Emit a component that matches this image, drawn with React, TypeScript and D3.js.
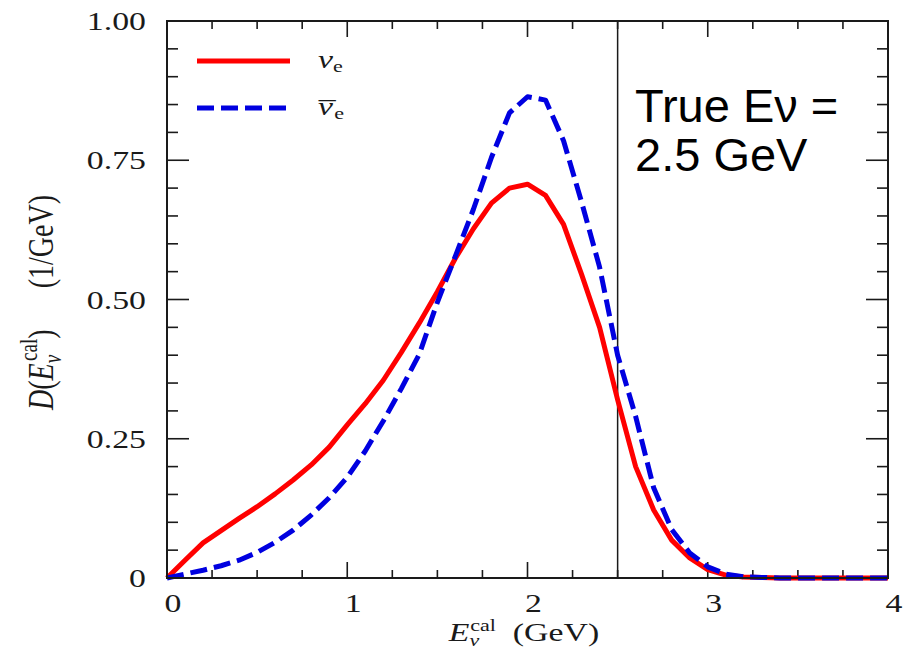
import React from "react";
import * as d3 from "d3";

const energies = [0, 0.1, 0.2, 0.3, 0.4, 0.5, 0.6, 0.7, 0.8, 0.9, 1.0, 1.1, 1.2, 1.3, 1.4, 1.5, 1.6, 1.7, 1.8, 1.9, 2.0, 2.1, 2.2, 2.3, 2.4, 2.5, 2.6, 2.7, 2.8, 2.9, 3.0, 3.1, 3.2, 3.3, 3.4, 3.5, 3.6, 3.7, 3.8, 3.9, 4.0];
const nuE = [0, 0.032, 0.063, 0.085, 0.107, 0.128, 0.151, 0.176, 0.203, 0.235, 0.275, 0.313, 0.355, 0.405, 0.458, 0.514, 0.574, 0.627, 0.673, 0.700, 0.707, 0.687, 0.635, 0.545, 0.450, 0.320, 0.200, 0.122, 0.068, 0.036, 0.015, 0.005, 0.002, 0.001, 0, 0, 0, 0, 0, 0, 0];
const nuEBar = [0, 0.007, 0.014, 0.022, 0.032, 0.046, 0.064, 0.086, 0.113, 0.144, 0.181, 0.228, 0.282, 0.340, 0.402, 0.495, 0.578, 0.662, 0.755, 0.835, 0.864, 0.858, 0.785, 0.675, 0.558, 0.400, 0.290, 0.162, 0.087, 0.045, 0.020, 0.007, 0.002, 0.001, 0, 0, 0, 0, 0, 0, 0];
const xTickLabels = ["0", "1", "2", "3", "4"];
const yTickLabels = ["0", "0.25", "0.50", "0.75", "1.00"];
const trueEnergy = 2.5;

const W = 909, H = 660;
const M = { left: 167, right: 888, top: 21, bottom: 578 };
const SX = 1.3;
const serif = "'Liberation Serif', 'Times New Roman', serif";
const sans = "'Liberation Sans', Arial, sans-serif";
const ink = "#1a1a1a";

export default function App() {
  const x = d3.scaleLinear().domain([0, 4]).range([M.left, M.right]);
  const y = d3.scaleLinear().domain([0, 1]).range([M.bottom, M.top]);
  const line = d3.line<number>().x((_, i) => x(energies[i])).y((d) => y(d));

  const xMinor = d3.range(0, 4.0001, 0.25);
  const yMinor = d3.range(0, 1.0001, 0.05);
  const isMajorX = (v: number) => Math.abs(v - Math.round(v)) < 1e-6;
  const isMajorY = (v: number) => Math.abs(v * 4 - Math.round(v * 4)) < 1e-6;

  const T = (props: { x: number; y: number; anchor?: string; size?: number; children: React.ReactNode }) => (
    <text
      transform={`translate(${props.x},${props.y}) scale(${SX},1)`}
      textAnchor={props.anchor || "middle"}
      fontFamily={serif}
      fontSize={props.size || 26}
      fill={ink}
    >
      {props.children}
    </text>
  );

  return (
    <svg width={W} height={H} style={{ position: "absolute", left: 0, top: 0, background: "#fff" }}>
      <rect x={0} y={0} width={W} height={H} fill="#fff" />
      {/* ticks */}
      {xMinor.map((v, i) => {
        const len = isMajorX(v) ? 16 : 8;
        return (
          <g key={"xt" + i} stroke={ink} strokeWidth={1.6}>
            <line x1={x(v)} x2={x(v)} y1={M.bottom} y2={M.bottom - len} />
            <line x1={x(v)} x2={x(v)} y1={M.top} y2={M.top + len} />
          </g>
        );
      })}
      {yMinor.map((v, i) => {
        const len = isMajorY(v) ? 22 : 11;
        return (
          <g key={"yt" + i} stroke={ink} strokeWidth={1.6}>
            <line x1={M.left} x2={M.left + len} y1={y(v)} y2={y(v)} />
            <line x1={M.right} x2={M.right - len} y1={y(v)} y2={y(v)} />
          </g>
        );
      })}
      {/* true energy line */}
      <line x1={x(trueEnergy)} x2={x(trueEnergy)} y1={M.top} y2={M.bottom} stroke={ink} strokeWidth={1.5} />
      {/* curves */}
      <path d={line(nuE) || ""} fill="none" stroke="#ff0000" strokeWidth={5} strokeLinejoin="round" />
      <path d={line(nuEBar) || ""} fill="none" stroke="#0000e0" strokeWidth={5} strokeDasharray="17,7" strokeLinejoin="round" />
      {/* frame */}
      <rect x={M.left} y={M.top} width={M.right - M.left} height={M.bottom - M.top} fill="none" stroke={ink} strokeWidth={2} />
      {/* tick labels */}
      {xTickLabels.map((t, i) => (
        <T key={"xl" + i} x={x(+t) + 6} y={612}>{t}</T>
      ))}
      {yTickLabels.map((t, i) => (
        <T key={"yl" + i} x={146} y={y(+t) + 9} anchor="end">{t}</T>
      ))}
      {/* x axis label */}
      <text transform={`translate(524,641) scale(${SX},1)`} textAnchor="middle" fontFamily={serif} fontSize={26} fill={ink}>
        <tspan fontStyle="italic">E</tspan>
        <tspan fontStyle="italic" fontSize={17} dy={5}>ν</tspan>
        <tspan fontSize={17} dx={-7} dy={-15}>cal</tspan>
        <tspan dy={10}>{"\u2002(GeV)"}</tspan>
      </text>
      {/* y axis label */}
      <text transform={`translate(53,410) rotate(-90) scale(1,${SX})`} textAnchor="start" fontFamily={serif} fontSize={28} fill={ink}>
        <tspan fontStyle="italic">D</tspan>
        <tspan>(</tspan>
        <tspan fontStyle="italic">E</tspan>
        <tspan fontStyle="italic" fontSize={19} dy={6}>ν</tspan>
        <tspan fontSize={19} dx={-6} dy={-18}>cal</tspan>
        <tspan dy={12}>)</tspan>
      </text>
      <text transform={`translate(53,195) rotate(-90) scale(1,${SX})`} textAnchor="end" fontFamily={serif} fontSize={28} fill={ink}>
        (1/GeV)
      </text>
      {/* legend */}
      <line x1={197} x2={290} y1={61} y2={61} stroke="#ff0000" strokeWidth={5} />
      <line x1={197} x2={290} y1={108} y2={108} stroke="#0000e0" strokeWidth={5} strokeDasharray="17,7" />
      <text transform={`translate(318,68) scale(${SX},1)`} fontFamily={serif} fontSize={26} fill={ink}>
        <tspan fontStyle="italic">ν</tspan>
        <tspan fontSize={17} dy={4}>e</tspan>
      </text>
      <text transform={`translate(318,115) scale(${SX},1)`} fontFamily={serif} fontSize={26} fill={ink}>
        <tspan fontStyle="italic">ν</tspan>
        <tspan dx={-11} dy={4}>{"\u00AF"}</tspan>
        <tspan fontSize={17} dx={-1} dy={0}>e</tspan>
      </text>
      {/* annotation */}
      <text x={635} y={122} fontFamily={sans} fontSize={47} fill="#000">True Eν =</text>
      <text x={635} y={171} fontFamily={sans} fontSize={47} fill="#000">2.5 GeV</text>
    </svg>
  );
}
